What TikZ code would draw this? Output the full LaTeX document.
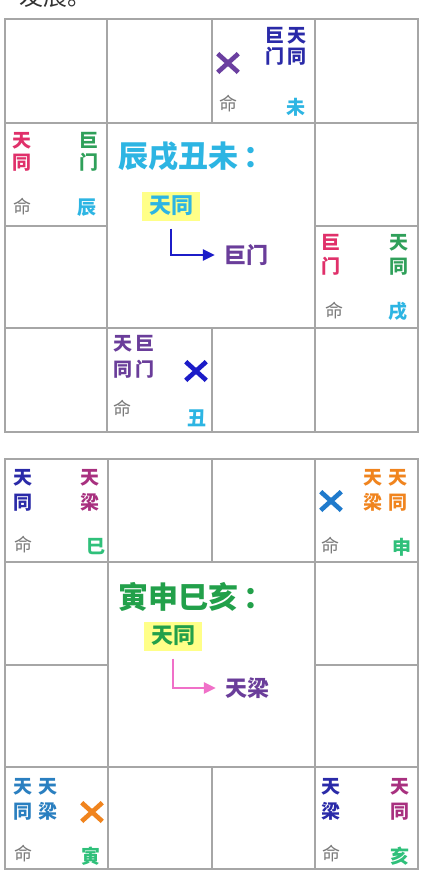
\documentclass[tikz,border=0pt]{standalone}
\usepackage{fontspec}
\newfontfamily\cjk{Noto Sans CJK SC}
\usetikzlibrary{arrows.meta,shapes.misc}
\definecolor{gridgray}{HTML}{A6A6A6}
\definecolor{minggray}{HTML}{7A7A7A}
\definecolor{purpX}{HTML}{6B3FA0}
\definecolor{navy}{HTML}{2A2AA8}
\definecolor{cyanC}{HTML}{2DB5E3}
\definecolor{pinkred}{HTML}{E0306A}
\definecolor{greenA}{HTML}{2FA05A}
\definecolor{arrblue}{HTML}{1C1CC8}
\definecolor{purpT}{HTML}{6A3D9A}
\definecolor{orangeA}{HTML}{F0841E}
\definecolor{blueX}{HTML}{1F7ACC}
\definecolor{mint}{HTML}{2FC07A}
\definecolor{magB}{HTML}{A8307F}
\definecolor{steel}{HTML}{2A7FC0}
\definecolor{arrpink}{HTML}{F070C8}
\definecolor{titlegreen}{HTML}{22A04A}
\definecolor{hl}{HTML}{FFFF88}
\definecolor{textgray}{HTML}{333333}
\tikzset{
  gridline/.style={draw=gridgray, line width=2pt},
  pitch/.style={font=\cjk\bfseries\fontsize{19}{#1}\selectfont, inner sep=0pt, align=center},
  ch/.style={font=\cjk\bfseries\fontsize{19}{22}\selectfont, inner sep=0pt},
  ming/.style={font=\cjk\fontsize{18}{20}\selectfont, inner sep=0pt, text=minggray},
  xmark/.style={cross out, draw, line width=4.6pt, minimum width=16pt, minimum height=14pt, inner sep=0pt},
  ttl/.style={font=\cjk\bfseries\fontsize{30}{33}\selectfont, inner sep=0pt, anchor=west},
  mid/.style={font=\cjk\bfseries\fontsize{22}{26}\selectfont, inner sep=0pt},
  hlbox/.style={mid, fill=hl, minimum width=58pt, minimum height=29pt},
  flow/.style={line width=2.4pt, -{Triangle[length=12pt,width=11pt]}, shorten <=8pt, shorten >=9pt},
}
\begin{document}
\begin{tikzpicture}[x=1pt,y=-1pt]
\useasboundingbox (0,0) rectangle (431,871);
\fill[white] (0,0) rectangle (431,871);
% fragment of preceding text
\node[font=\cjk\fontsize{24}{28}\selectfont, text=textgray, anchor=base west, inner sep=0pt] (frag) at (19,5.5) {发展。};

% ===== grid 1 =====
\draw[gridline] (5,19) rectangle (418,432);
\draw[gridline] (5,123) -- (418,123);
\draw[gridline] (5,328) -- (418,328);
\draw[gridline] (5,226) -- (107,226);
\draw[gridline] (315,226) -- (418,226);
\draw[gridline] (107,19) -- (107,432);
\draw[gridline] (315,19) -- (315,432);
\draw[gridline] (212,19) -- (212,123);
\draw[gridline] (212,328) -- (212,432);

% top cell (未)
\node[xmark, purpX] (w_x) at (228,63) {};
\node[pitch=21, text=navy] (w_a) at (275,46.5) {巨\\门};
\node[pitch=21, text=navy] (w_b) at (297,46.5) {天\\同};
\node[ming] (w_m) at (228,104) {命};
\node[ch, text=cyanC] (w_z) at (296,107) {未};

% left cell (辰)
\node[pitch=22, text=pinkred] (c_a) at (22,152) {天\\同};
\node[pitch=22, text=greenA] (c_b) at (89,152) {巨\\门};
\node[ming] (c_m) at (22,207) {命};
\node[ch, text=cyanC] (c_z) at (87,208) {辰};

% right cell (戌)
\node[pitch=24, text=pinkred] (x_a) at (331,255) {巨\\门};
\node[pitch=24, text=greenA] (x_b) at (399,255) {天\\同};
\node[ming] (x_m) at (334,311) {命};
\node[ch, text=cyanC] (x_z) at (398,312) {戌};

% bottom cell (丑)
\node[pitch=26, text=purpT] (u_a) at (123,357) {天\\同};
\node[pitch=26, text=purpT] (u_b) at (145,357) {巨\\门};
\node[xmark, arrblue] (u_x) at (196,371) {};
\node[ming] (u_m) at (122,409) {命};
\node[ch, text=cyanC] (u_z) at (197,418) {丑};

% centre
\node[ttl, text=cyanC] (t1) at (118,156) {辰戌丑未\hspace{5pt}：};
\node[hlbox, text=cyanC] (tt1) at (171,206) {天同};
\node[mid, text=purpT] (jm1) at (246,255) {巨门};
\draw[flow, arrblue] (tt1.south) |- (jm1.west);

% ===== grid 2 =====
\draw[gridline] (5,459) rectangle (418,869);
\draw[gridline] (5,562) -- (418,562);
\draw[gridline] (5,767) -- (418,767);
\draw[gridline] (5,665) -- (108,665);
\draw[gridline] (315,665) -- (418,665);
\draw[gridline] (108,459) -- (108,869);
\draw[gridline] (315,459) -- (315,869);
\draw[gridline] (212,459) -- (212,562);
\draw[gridline] (212,767) -- (212,869);

% top-left (巳)
\node[pitch=25, text=navy] (s_a) at (23,490) {天\\同};
\node[pitch=25, text=magB] (s_b) at (90,490) {天\\梁};
\node[ming] (s_m) at (24,545) {命};
\node[ch, text=mint] (s_z) at (96,547) {巳};

% top-right (申)
\node[xmark, blueX] (n_x) at (331,501) {};
\node[pitch=25, text=orangeA] (n_a) at (373,490) {天\\梁};
\node[pitch=25, text=orangeA] (n_b) at (398,490) {天\\同};
\node[ming] (n_m) at (330,546) {命};
\node[ch, text=mint] (n_z) at (402,547) {申};

% bottom-left (寅)
\node[pitch=25, text=steel] (y_a) at (23,799) {天\\同};
\node[pitch=25, text=steel] (y_b) at (48,799) {天\\梁};
\node[xmark, orangeA] (y_x) at (92,812) {};
\node[ming] (y_m) at (24,854) {命};
\node[ch, text=mint] (y_z) at (91,856) {寅};

% bottom-right (亥)
\node[pitch=25, text=navy] (h_a) at (331,799) {天\\梁};
\node[pitch=25, text=magB] (h_b) at (400,799) {天\\同};
\node[ming] (h_m) at (331,854) {命};
\node[ch, text=mint] (h_z) at (400,856) {亥};

% centre
\node[ttl, text=titlegreen] (t2) at (118,597) {寅申巳亥\hspace{5pt}：};
\node[hlbox, text=titlegreen] (tt2) at (173,636) {天同};
\node[mid, text=purpT] (tl2) at (247,688) {天梁};
\draw[flow, arrpink] (tt2.south) |- (tl2.west);
\end{tikzpicture}
\end{document}
